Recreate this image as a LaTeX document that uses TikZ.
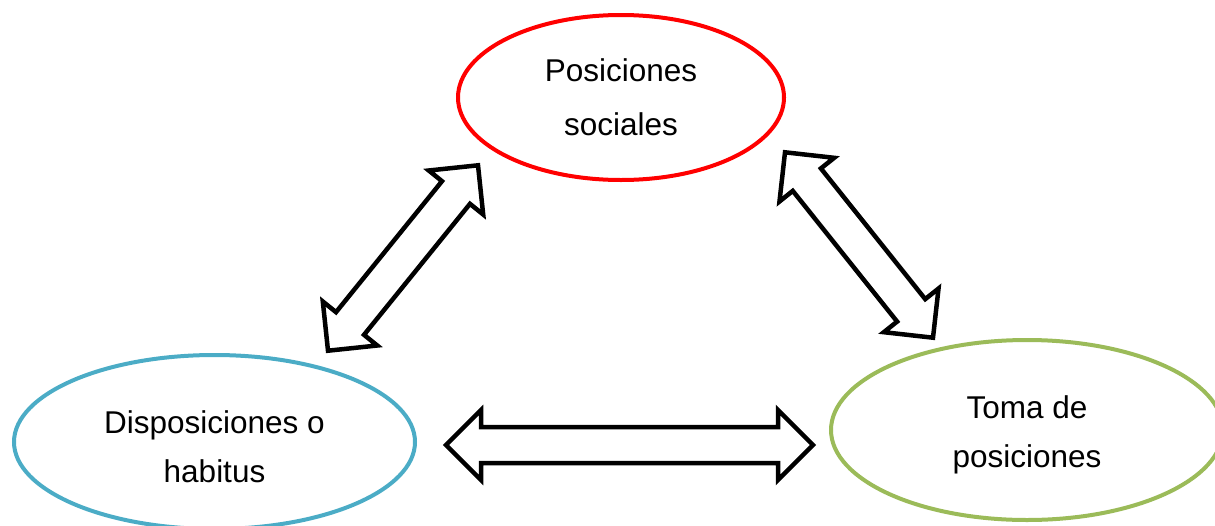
\documentclass[tikz,border=0pt]{standalone}
\usepackage{fontspec}
\setmainfont{Liberation Sans}
\usetikzlibrary{calc,shapes.geometric}
\definecolor{ovred}{RGB}{255,0,0}
\definecolor{ovblue}{RGB}{75,172,198}
\definecolor{ovgreen}{RGB}{155,187,89}
\tikzset{
  oval/.style={ellipse,draw,line width=4pt,inner sep=0pt,align=center,
    font=\fontsize{31.5}{49}\selectfont},
  blockarrow/.style={draw=black,fill=white,line width=4.5pt,line join=miter}
}
\def\dblarrow#1#2{\draw[blockarrow] (#1)
  -- ($(#1)!49.5pt!45:(#2)$) -- ($(#1)!39.36pt!27.22:(#2)$)
  -- ($(#2)!39.36pt!-27.22:(#1)$) -- ($(#2)!49.5pt!-45:(#1)$)
  -- (#2)
  -- ($(#2)!49.5pt!45:(#1)$) -- ($(#2)!39.36pt!27.22:(#1)$)
  -- ($(#1)!39.36pt!-27.22:(#2)$) -- ($(#1)!49.5pt!-45:(#2)$)
  -- cycle;}
\def\tstrut{\rule{0pt}{33pt}}

\begin{document}
\begin{tikzpicture}[x=1pt,y=-1pt]
  \useasboundingbox (0,0) rectangle (1215,525);
  \node[oval,draw=ovred,minimum width=326pt,minimum height=165pt,
    font=\fontsize{31.5}{54}\selectfont] (pos) at (621,97.5) {Posiciones\\sociales};
  \node[oval,draw=ovblue,minimum width=401pt,minimum height=174pt] (dis) at (214.5,442) {\tstrut Disposiciones o\\habitus};
  \node[oval,draw=ovgreen,minimum width=392pt,minimum height=180pt] (tom) at (1027,430) {\tstrut Toma de\\posiciones};
  % arrow ends
  \coordinate (dl) at (328,350.7);
  \coordinate (dr) at (478,165.3);
  \coordinate (tl) at (785,152.3);
  \coordinate (tr) at (933,337.7);
  \coordinate (hl) at (446,445);
  \coordinate (hr) at (813,445);
  \dblarrow{dl}{dr}
  \dblarrow{tl}{tr}
  \dblarrow{hl}{hr}
\end{tikzpicture}
\end{document}
